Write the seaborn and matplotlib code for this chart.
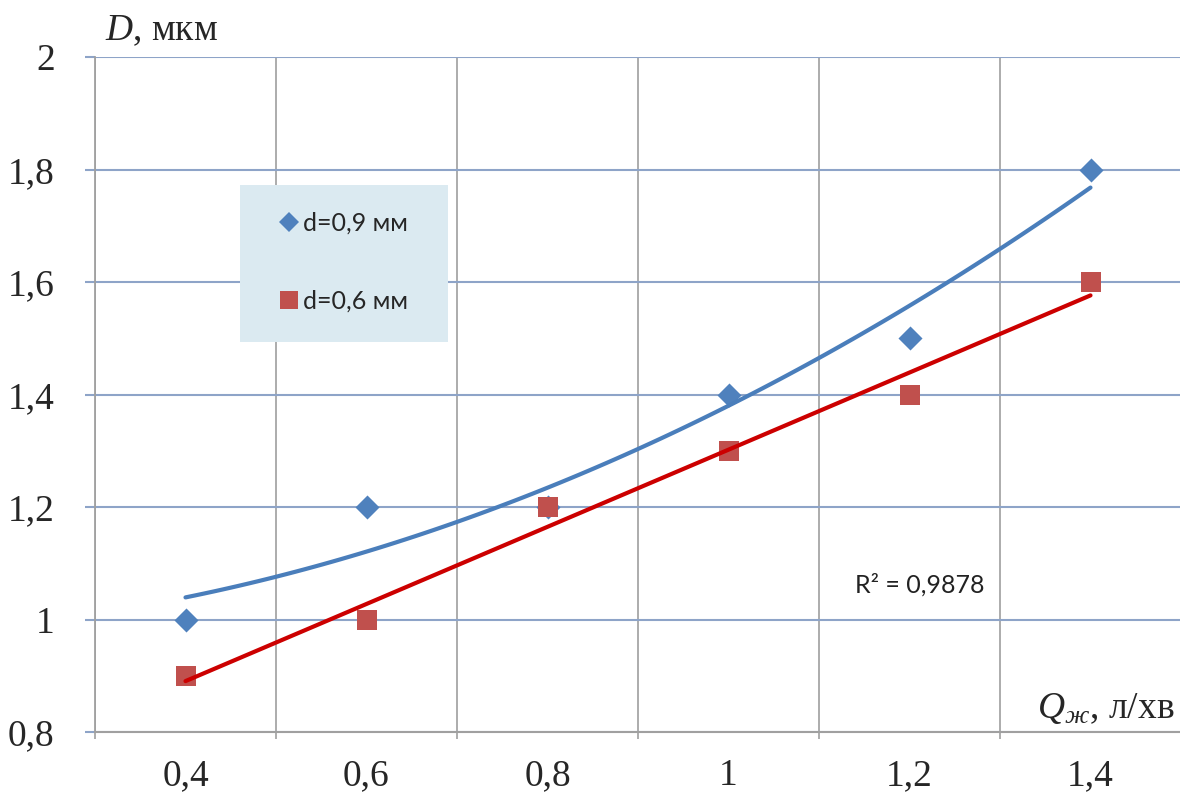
import numpy as np
import pandas as pd
import matplotlib
matplotlib.use("Agg")
import matplotlib.pyplot as plt
import seaborn as sns
from matplotlib.patches import Rectangle
from matplotlib.lines import Line2D

# ---- data ----
categories = ["0,4", "0,6", "0,8", "1", "1,2", "1,4"]
d09 = [1.0, 1.2, 1.2, 1.4, 1.5, 1.8]      # d=0,9 мм (point at 0,8 hidden under red marker)
d06 = [0.9, 1.0, 1.2, 1.3, 1.4, 1.6]      # d=0,6 мм
yticks = [0.8, 1.0, 1.2, 1.4, 1.6, 1.8, 2.0]
ytick_labels = ["0,8", "1", "1,2", "1,4", "1,6", "1,8", "2"]
legend_labels = ["d=0,9 мм", "d=0,6 мм"]
r2_text = "R² = 0,9878"

pos = list(range(len(categories)))
df = pd.DataFrame({"pos": pos, "d09": d09, "d06": d06})

sns.set_theme(style="white")
plt.rcParams["font.family"] = ["Liberation Serif", "DejaVu Serif"]
plt.rcParams["mathtext.fontset"] = "custom"
plt.rcParams["mathtext.rm"] = "Liberation Serif"
plt.rcParams["mathtext.it"] = "Liberation Serif:italic"

W, H = 1180, 792
fig = plt.figure(figsize=(W / 100, H / 100), dpi=100)
ax = fig.add_axes([95 / W, 60 / H, 1086 / W, 675 / H])

blue = "#4f81bd"
blue_line = "#4a7ebb"
red = "#c0504d"
red_line = "#cc0000"

# markers (blue first, red drawn over it)
sns.scatterplot(data=df, x="pos", y="d09", marker="D", s=150, color=blue,
                edgecolor=blue, linewidth=0, ax=ax, zorder=3)
sns.scatterplot(data=df, x="pos", y="d06", marker="s", s=190, color=red,
                edgecolor=red, linewidth=0, ax=ax, zorder=3.1)
# trend lines
sns.regplot(data=df, x="pos", y="d09", order=2, ci=None, scatter=False,
            truncate=True, line_kws=dict(color=blue_line, lw=3, zorder=4), ax=ax)
sns.regplot(data=df, x="pos", y="d06", order=1, ci=None, scatter=False,
            truncate=True, line_kws=dict(color=red_line, lw=3, zorder=4.1), ax=ax)

ax.set_xlim(-0.5, len(categories) - 0.5)
ax.set_ylim(0.8, 2.0)
ax.set_xlabel("")
ax.set_ylabel("")

# x ticks: labels at centers, marks at boundaries
ax.set_xticks(pos)
ax.set_xticklabels(categories, fontsize=27)
ax.set_xticks(np.arange(-0.5, len(categories), 1.0), minor=True)
ax.tick_params(axis="x", which="major", length=0, pad=19)
ax.tick_params(axis="x", which="minor", length=5, width=1.2, color="#a0a0a0",
               direction="out", bottom=True)
ax.set_yticks(yticks)
ax.set_yticklabels(ytick_labels, fontsize=27)
ax.tick_params(axis="y", which="major", length=7, width=1.5, color="#8ea4c8",
               direction="out", pad=22, left=True)

ax.grid(False)
for x in np.arange(-0.5, len(categories), 1.0):
    ax.axvline(x, color="#a6a6a6", lw=1.3, zorder=1)
for y in yticks:
    ax.axhline(y, color="#8ea4c8", lw=1.5, zorder=1)

for s in ["top", "right"]:
    ax.spines[s].set_visible(False)
ax.spines["left"].set_color("#a0a0a0")
ax.spines["left"].set_linewidth(1.3)
ax.spines["bottom"].set_color("#a0a0a0")
ax.spines["bottom"].set_linewidth(1.5)

# axis titles
fig.text(105 / W, 1 - 40 / H, r"$D$, мкм", fontsize=27, ha="left", va="baseline")
fig.text(1037 / W, 1 - 718 / H, r"$Q_{ж}$, л/хв", fontsize=27, ha="left", va="baseline")

# legend box
fig.patches.append(Rectangle((240 / W, 1 - 342 / H), 208 / W, 157 / H,
                             transform=fig.transFigure, facecolor="#dbeaf1",
                             edgecolor="none", zorder=1))
handles = [Line2D([], [], ls="none", marker="D", ms=10.5, color=blue, mew=0),
           Line2D([], [], ls="none", marker="s", ms=12.5, color=red, mew=0)]
fig.legend(handles, legend_labels, loc="center left",
           bbox_to_anchor=(276.5 / W, 1 - 262 / H), frameon=False,
           prop={"family": ["Lato", "DejaVu Sans"], "size": 18},
           handlelength=1.0, handletextpad=0.06, labelspacing=2.2, borderpad=0,
           borderaxespad=0)

fig.text(855 / W, 1 - 585 / H, r2_text, fontsize=18, ha="left", va="center",
         family=["Lato", "DejaVu Sans"], color="#222222")

fig.savefig("out.png", dpi=100)
